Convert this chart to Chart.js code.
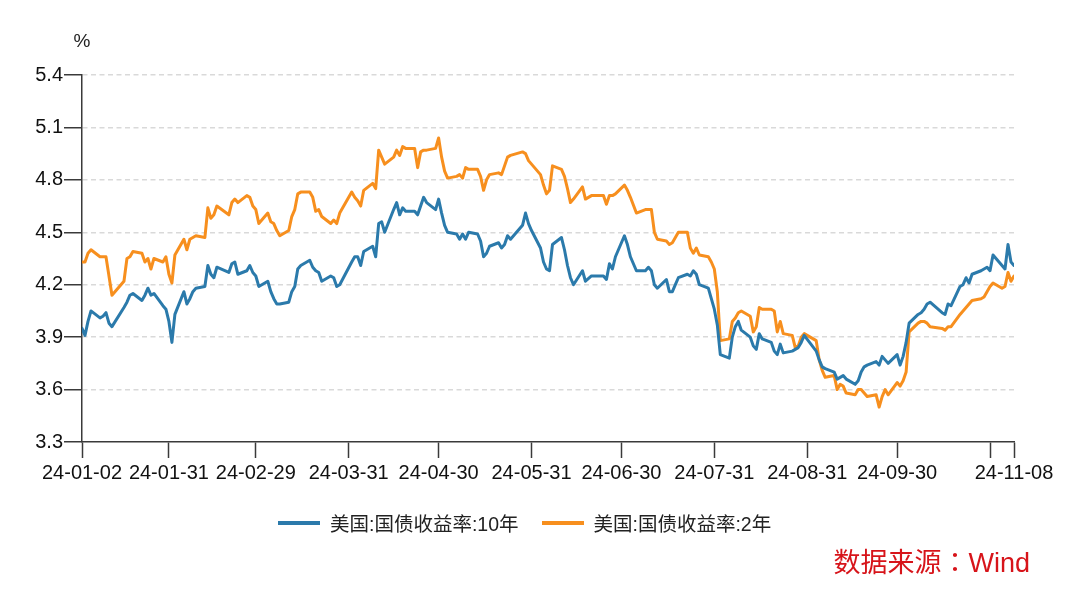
<!DOCTYPE html>
<html>
<head>
<meta charset="utf-8">
<script src="https://cdn.jsdelivr.net/npm/chart.js@4.4.1/dist/chart.umd.min.js"></script>
<style>
  html, body { margin: 0; padding: 0; background: #fff; }
  #wrap { position: relative; width: 1080px; height: 599px; }
  #legend { position: absolute; left: 278px; top: 508px; display: flex; align-items: center;
            font: 19.5px "Liberation Sans", "Noto Sans CJK SC", sans-serif; color: #222; }
  .item { display: flex; align-items: center; margin-right: 23px; }
  .swatch { width: 42px; height: 4px; margin-right: 10px; }
  #source { position: absolute; right: 50px; top: 546px; color: #d7141a;
            font: 27px "Liberation Sans", "Noto Sans CJK SC", sans-serif; line-height: 30px; }
  #source .colon { font-family: "Noto Sans CJK TC", sans-serif; }
</style>
</head>
<body>
<div id="wrap">
  <canvas id="chart" width="1080" height="599"></canvas>
  <div id="legend"></div>
  <div id="source">数据来源<span class="colon">：</span>Wind</div>
</div>
<script>
// trading calendar (US bond market) for the period shown
const startDate = '2024-01-02';
const endDate = '2024-11-08';
const holidays = ['2024-01-15', '2024-02-19', '2024-03-29', '2024-05-27', '2024-06-19',
                  '2024-07-04', '2024-09-02', '2024-10-14'];

// x-axis ticks
const tickDates = ['2024-01-02', '2024-01-31', '2024-02-29', '2024-03-31', '2024-04-30', '2024-05-31',
                   '2024-06-30', '2024-07-31', '2024-08-31', '2024-09-30', '2024-10-31', '2024-11-08'];
const tickLabels = ['24-01-02', '24-01-31', '24-02-29', '24-03-31', '24-04-30', '24-05-31',
                    '24-06-30', '24-07-31', '24-08-31', '24-09-30', '', '24-11-08'];

// y-axis
const yMin = 3.3, yMax = 5.4, yStep = 0.3;

const seriesNames = ['美国:国债收益率:10年', '美国:国债收益率:2年'];
const seriesColors = ['#2b7aab', '#f78f1e'];

// one value per trading day, month by month
const yield10y = [
  3.95, 3.91, 3.99, 4.05, 4.01, 4.02, 4.04, 3.98, 3.96, 4.07, 4.10, 4.14, 4.15, 4.11, 4.14, 4.18, 4.14, 4.15, 4.08, 4.06, 3.99,
  3.87, 4.03, 4.16, 4.09, 4.12, 4.16, 4.18, 4.19, 4.31, 4.26, 4.24, 4.30, 4.27, 4.32, 4.33, 4.26, 4.28, 4.31, 4.27, 4.25,
  4.19, 4.22, 4.16, 4.12, 4.09, 4.09, 4.10, 4.16, 4.19, 4.29, 4.31, 4.34, 4.30, 4.28, 4.27, 4.22, 4.25, 4.24, 4.19, 4.20,
  4.33, 4.36, 4.36, 4.31, 4.39, 4.42, 4.36, 4.55, 4.56, 4.50, 4.63, 4.67, 4.60, 4.64, 4.62, 4.62, 4.60, 4.65, 4.70, 4.67, 4.63, 4.69,
  4.61, 4.54, 4.50, 4.49, 4.46, 4.49, 4.46, 4.50, 4.49, 4.45, 4.36, 4.38, 4.42, 4.44, 4.41, 4.43, 4.48, 4.46, 4.54, 4.61, 4.55, 4.51,
  4.41, 4.33, 4.29, 4.28, 4.43, 4.47, 4.40, 4.31, 4.24, 4.20, 4.28, 4.22, 4.25, 4.25, 4.25, 4.23, 4.32, 4.29, 4.36,
  4.48, 4.43, 4.36, 4.28, 4.28, 4.30, 4.28, 4.20, 4.18, 4.23, 4.16, 4.16, 4.20, 4.24, 4.26, 4.25, 4.28, 4.26, 4.20, 4.18, 4.12, 4.06,
  3.97, 3.80, 3.78, 3.90, 3.96, 3.99, 3.94, 3.90, 3.85, 3.83, 3.92, 3.89, 3.87, 3.82, 3.80, 3.86, 3.81, 3.82, 3.83, 3.84, 3.87, 3.91,
  3.82, 3.77, 3.73, 3.72, 3.70, 3.66, 3.67, 3.68, 3.66, 3.63, 3.65, 3.70, 3.73, 3.74, 3.76, 3.74, 3.79, 3.77, 3.75, 3.80,
  3.74, 3.79, 3.87, 3.98, 4.03, 4.04, 4.06, 4.09, 4.10, 4.04, 4.03, 4.09, 4.08, 4.19, 4.20, 4.24, 4.21, 4.26, 4.28, 4.29, 4.30, 4.28,
  4.37, 4.31, 4.29, 4.43, 4.33, 4.31
];
const yield2y = [
  4.33, 4.33, 4.38, 4.40, 4.36, 4.36, 4.36, 4.25, 4.14, 4.22, 4.35, 4.36, 4.39, 4.38, 4.33, 4.35, 4.29, 4.35, 4.33, 4.36, 4.26,
  4.21, 4.37, 4.46, 4.40, 4.46, 4.47, 4.48, 4.47, 4.64, 4.58, 4.60, 4.65, 4.60, 4.67, 4.69, 4.67, 4.71, 4.70, 4.65, 4.63,
  4.55, 4.61, 4.56, 4.55, 4.51, 4.48, 4.51, 4.59, 4.63, 4.72, 4.73, 4.73, 4.70, 4.62, 4.63, 4.59, 4.55, 4.57, 4.55, 4.61,
  4.73, 4.70, 4.68, 4.65, 4.74, 4.78, 4.75, 4.97, 4.93, 4.89, 4.93, 4.97, 4.94, 4.99, 4.98, 4.98, 4.87, 4.96, 4.97, 4.97, 4.98, 5.04,
  4.93, 4.85, 4.81, 4.82, 4.83, 4.81, 4.87, 4.86, 4.86, 4.82, 4.74, 4.80, 4.83, 4.84, 4.83, 4.88, 4.93, 4.94, 4.96, 4.95, 4.91, 4.89,
  4.83, 4.77, 4.72, 4.74, 4.88, 4.86, 4.82, 4.75, 4.67, 4.69, 4.76, 4.69, 4.71, 4.71, 4.71, 4.66, 4.71, 4.71, 4.72,
  4.77, 4.74, 4.70, 4.61, 4.63, 4.63, 4.63, 4.50, 4.46, 4.45, 4.43, 4.44, 4.47, 4.50, 4.50, 4.41, 4.38, 4.41, 4.37, 4.36, 4.33, 4.29,
  4.16, 3.88, 3.89, 3.99, 4.01, 4.04, 4.05, 4.02, 3.93, 3.96, 4.07, 4.06, 4.06, 4.05, 3.93, 3.99, 3.92, 3.91, 3.84, 3.85, 3.90, 3.92,
  3.88, 3.77, 3.71, 3.67, 3.68, 3.60, 3.63, 3.62, 3.58, 3.57, 3.60, 3.60, 3.58, 3.56, 3.57, 3.50, 3.56, 3.60, 3.57, 3.64,
  3.62, 3.65, 3.70, 3.93, 3.98, 3.99, 3.99, 3.98, 3.96, 3.95, 3.94, 3.96, 3.96, 4.03, 4.05, 4.07, 4.09, 4.11, 4.12, 4.13, 4.16, 4.19,
  4.21, 4.18, 4.19, 4.27, 4.22, 4.25
];

function dayNum(s) {
  const [y, m, d] = s.split('-').map(Number);
  return Date.UTC(y, m - 1, d) / 864e5;
}

const day0 = dayNum(startDate);
let tradingDays = [];
for (let t = day0; t <= dayNum(endDate); t++) {
  const wd = new Date(t * 864e5).getUTCDay();
  const iso = new Date(t * 864e5).toISOString().slice(0, 10);
  if (wd === 0 || wd === 6 || holidays.includes(iso)) continue;
  tradingDays.push(t - day0);
}
if (tradingDays.length !== yield10y.length || tradingDays.length !== yield2y.length) {
  console.log('length mismatch', tradingDays.length, yield10y.length, yield2y.length);
}
const tickDays = tickDates.map(d => dayNum(d) - day0);

const toPoints = (arr) => arr.map((v, i) => ({x: tradingDays[i], y: v}));

const percentLabel = {
  id: 'percentLabel',
  afterDraw(chart) {
    const {ctx, chartArea} = chart;
    ctx.save();
    ctx.fillStyle = '#222';
    ctx.font = '19px "Liberation Sans", sans-serif';
    ctx.textAlign = 'center';
    ctx.textBaseline = 'middle';
    ctx.fillText('%', chartArea.left, chartArea.top - 33);
    ctx.restore();
  }
};

const axisColor = '#3a3a3a';
const tickFont = {family: '"Liberation Sans", sans-serif', size: 20};

new Chart(document.getElementById('chart'), {
  type: 'line',
  data: {
    datasets: [
      {label: seriesNames[0], data: toPoints(yield10y), borderColor: seriesColors[0], borderWidth: 3},
      {label: seriesNames[1], data: toPoints(yield2y), borderColor: seriesColors[1], borderWidth: 3}
    ]
  },
  options: {
    responsive: false,
    animation: false,
    events: [],
    layout: {padding: {left: 0, right: 66, top: 75, bottom: 117}},
    elements: {
      point: {radius: 0},
      line: {tension: 0, borderJoinStyle: 'round', borderCapStyle: 'round'}
    },
    plugins: {legend: {display: false}, tooltip: {enabled: false}},
    scales: {
      x: {
        type: 'linear',
        min: 0,
        max: tickDays[tickDays.length - 1],
        afterBuildTicks: (scale) => { scale.ticks = tickDays.map(v => ({value: v})); },
        afterFit: (scale) => { scale.height = 40; },
        ticks: {
          autoSkip: false,
          maxRotation: 0,
          padding: 3,
          color: '#111',
          font: tickFont,
          callback: (value, index) => tickLabels[index]
        },
        grid: {drawOnChartArea: false, tickLength: 16, tickColor: axisColor, tickWidth: 1.5},
        border: {display: true, color: axisColor, width: 1.5}
      },
      y: {
        min: yMin,
        max: yMax,
        afterFit: (scale) => { scale.width = 82; },
        ticks: {
          stepSize: yStep,
          padding: 1,
          color: '#111',
          font: tickFont,
          callback: (value) => value.toFixed(1)
        },
        grid: {
          color: (c) => (c.tick && Math.abs(c.tick.value - yMin) < 1e-6) ? 'rgba(0,0,0,0)' : '#d9d9d9',
          lineWidth: 1.5,
          tickLength: 18,
          tickColor: axisColor,
          tickWidth: 1.5
        },
        border: {display: true, color: axisColor, width: 1.5, dash: [5, 3.5]}
      }
    }
  },
  plugins: [percentLabel]
});

// legend built from the series
const legend = document.getElementById('legend');
seriesNames.forEach((name, i) => {
  const item = document.createElement('div');
  item.className = 'item';
  const sw = document.createElement('div');
  sw.className = 'swatch';
  sw.style.background = seriesColors[i];
  const txt = document.createElement('span');
  txt.textContent = name;
  item.appendChild(sw);
  item.appendChild(txt);
  legend.appendChild(item);
});
</script>
</body>
</html>
